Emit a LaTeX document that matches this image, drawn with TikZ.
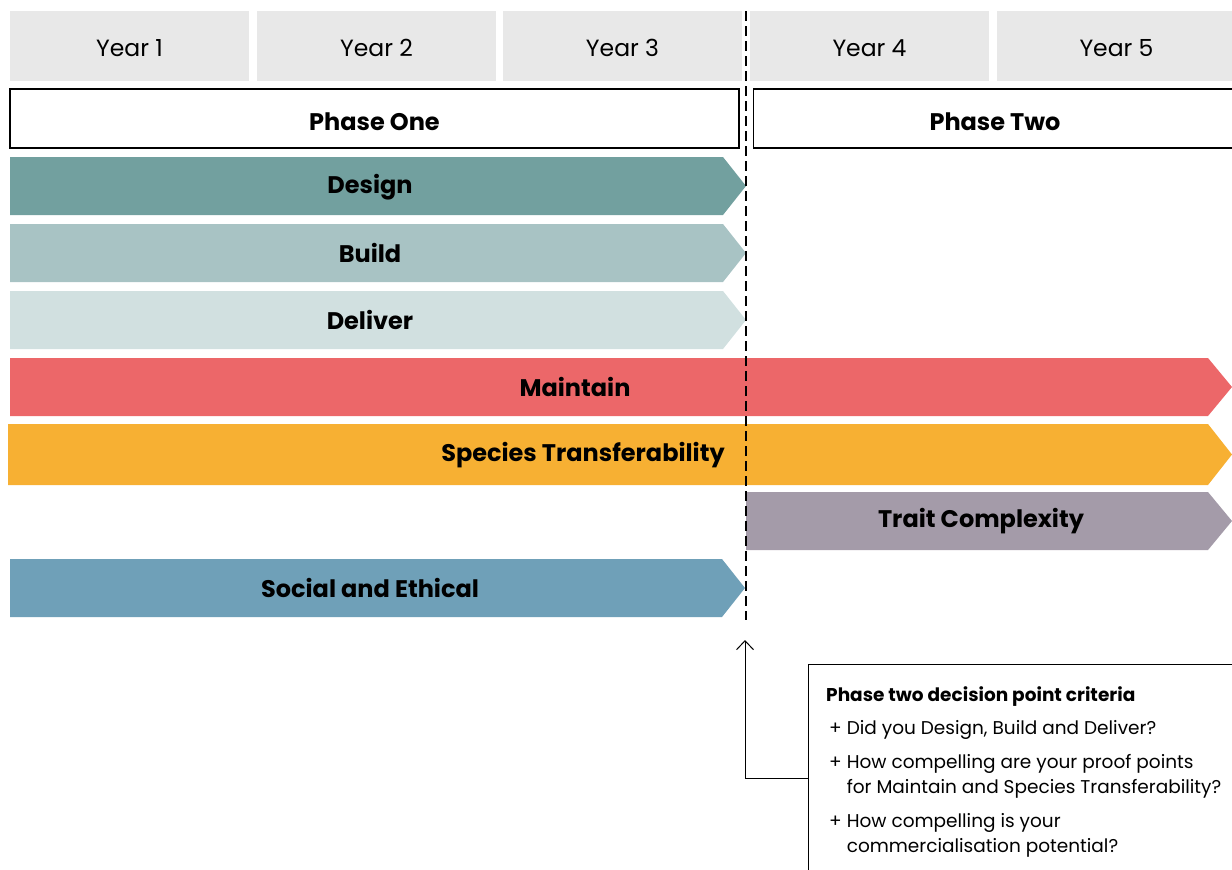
\documentclass[tikz,border=0pt]{standalone}
\usepackage{fontspec}
\setmainfont{Poppins}
\usetikzlibrary{arrows.meta}
\definecolor{yearc}{HTML}{E8E8E8}
\definecolor{designc}{HTML}{72A09F}
\definecolor{buildc}{HTML}{A8C3C4}
\definecolor{deliverc}{HTML}{D1E0E0}
\definecolor{maintainc}{HTML}{EC6769}
\definecolor{speciesc}{HTML}{F7B033}
\definecolor{traitc}{HTML}{A49BA9}
\definecolor{socialc}{HTML}{6FA0B8}
\tikzset{
  yearbox/.style={fill=yearc, minimum width=239pt, minimum height=70pt, inner sep=0pt},
  yearlabel/.style={inner sep=0pt, font=\fontsize{23.5}{27}\selectfont},
  phasebox/.style={draw=black, line width=1.2pt, fill=white, inner sep=0pt},
  phaselabel/.style={inner sep=0pt, font=\bfseries\fontsize{24}{28}\selectfont},
  bandlabel/.style={font=\bfseries\fontsize{24}{28}\selectfont, inner sep=0pt},
  crittext/.style={anchor=base west, align=left, inner sep=0pt, font=\fontsize{18.5}{25}\selectfont},
}
\begin{document}
\begin{tikzpicture}[x=1pt,y=-1pt]
\useasboundingbox (0,0) rectangle (1232,870);
% years
\node[yearbox] (y1) at (129.5,46) {};
\node[yearbox] (y2) at (376.5,46) {};
\node[yearbox] (y3) at (622.5,46) {};
\node[yearbox] (y4) at (869.5,46) {};
\node[yearbox] (y5) at (1116.5,46) {};
\node[yearlabel] (t1) at (129.5,48) {Year 1};
\node[yearlabel] (t2) at (376.5,48) {Year 2};
\node[yearlabel] (t3) at (622.5,48) {Year 3};
\node[yearlabel] (t4) at (869.5,48) {Year 4};
\node[yearlabel] (t5) at (1116.5,48) {Year 5};
% phases
\node[phasebox, minimum width=729pt, minimum height=59pt] (p1box) at (374.5,118.5) {};
\node[phaselabel] (p1) at (374.5,122) {Phase One};
\node[phasebox, minimum width=490pt, minimum height=59pt, anchor=west] (p2box) at (753,118.5) {};
\node[phaselabel] (p2) at (995,122) {Phase Two};
% bands
\fill[designc] (10,157) -- (723,157) -- (746,186) -- (723,215) -- (10,215) -- cycle;
\node[bandlabel] (design) at (370,187) {Design};
\fill[buildc] (10,224) -- (723,224) -- (746,253) -- (723,282) -- (10,282) -- cycle;
\node[bandlabel] (build) at (370,253) {Build};
\fill[deliverc] (10,291) -- (723,291) -- (746,320) -- (723,349) -- (10,349) -- cycle;
\node[bandlabel] (deliver) at (370,320) {Deliver};
\fill[maintainc] (10,358) -- (1208,358) -- (1232,387) -- (1208,416) -- (10,416) -- cycle;
\node[bandlabel] (maintain) at (575,387) {Maintain};
\fill[speciesc] (8,424) -- (1208,424) -- (1232,454.5) -- (1208,485) -- (8,485) -- cycle;
\node[bandlabel] (species) at (583,455) {Species Transferability};
\fill[traitc] (746,492) -- (1208,492) -- (1232,521) -- (1208,550) -- (746,550) -- cycle;
\node[bandlabel] (trait) at (981,521) {Trait Complexity};
\fill[socialc] (10,559) -- (722,559) -- (745,588) -- (722,617) -- (10,617) -- cycle;
\node[bandlabel] (social) at (370,588) {Social and Ethical};
% decision line
\coordinate (dtop) at (746,11);
\coordinate (dbot) at (746,620);
\draw[line width=2.4pt, dash pattern=on 10pt off 5pt] (dtop) -- (dbot);
% criteria box
\node[draw=black, line width=1.2pt, fill=white, anchor=north west, minimum width=440pt, minimum height=228pt, inner sep=0pt] (crit) at (807.5,663.5) {};
\coordinate (tip) at (745,640);
\draw[line width=1pt, -{Straight Barb[length=9pt, width=17pt, line width=1pt]}] (crit.west) -| (tip);
\node[crittext, font=\bfseries\fontsize{18.5}{25}\selectfont] (ctitle) at (826,701) {Phase two decision point criteria};
\node[crittext] (c1) at (829,734) {+ Did you Design, Build and Deliver?};
\node[crittext] (c2) at (829,793) {+ How compelling are your proof points\\\phantom{+ }for Maintain and Species Transferability?};
\node[crittext] (c3) at (829,852) {+ How compelling is your\\\phantom{+ }commercialisation potential?};
\end{tikzpicture}
\end{document}
